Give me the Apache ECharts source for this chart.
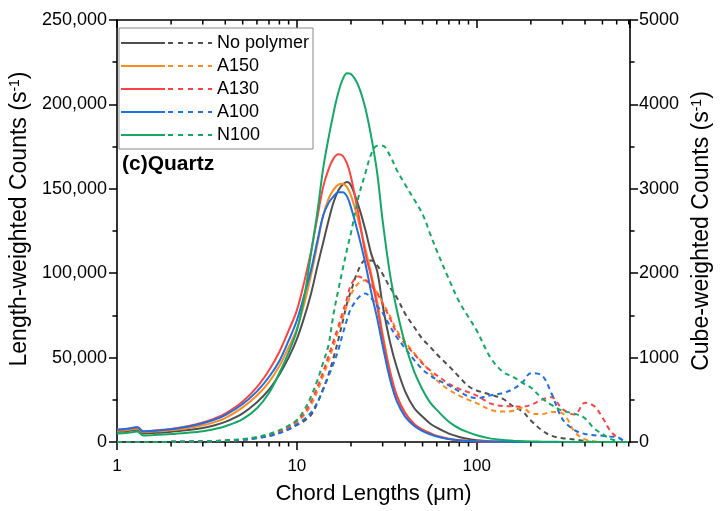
<!DOCTYPE html>
<html><head><meta charset="utf-8">
<script src="https://cdn.jsdelivr.net/npm/echarts@6/dist/echarts.min.js"></script>
<style>html,body{margin:0;padding:0;background:#fff}#c{width:721px;height:511px}</style>
</head><body><div id="c"></div>
<script>
const chord = [1,1.15,1.3,1.4,1.6,1.8,2,2.5,3,3.5,4,5,6,7,8,9,10,11,12,13,14,15,16,17,18,19,20,22,24,26,28,30,33,36,40,45,50,55,60,70,80,90,100,120,140,160,180,200,230,260,300,350,400,450,500,550,600,650,700];

// Length-weighted counts (left axis, s^-1)
const noPolymerL = [6000,6500,7300,5100,5400,5700,6100,7100,8300,9900,11900,17000,23500,31000,40000,50000,61000,74000,88000,104000,118000,131000,142000,149000,152500,154000,152000,140000,126000,111000,101000,81000,59000,44000,30000,20000,15000,11000,8500,5000,3000,1800,1100,500,300,200,120,80,50,30,20,10,5,0,0,0,0,0,0];
const a150L = [6600,7100,7900,5800,6200,6500,6900,8300,9900,11800,14100,20500,27500,35500,45000,56000,67000,82000,99000,117000,134000,144000,149500,152500,153000,151000,146000,131000,115000,99000,83000,64000,42000,27500,17500,10500,7300,5200,3700,2000,1100,700,450,250,150,100,60,40,20,10,5,0,0,0,0,0,0,0,0];
const a130L = [7300,7900,8800,6300,6800,7200,7700,9500,11600,14000,16800,24000,32500,42500,53500,66000,78000,95000,113000,133000,151000,161500,168000,170500,169500,165000,157000,135000,112000,97000,80000,62000,41000,27000,17000,10500,7200,5200,3500,1800,1000,600,400,200,120,80,50,30,15,5,0,0,0,0,0,0,0,0,0];
const a100L = [7200,7800,8800,6200,6700,7100,7600,9200,11100,13300,15900,22500,30000,38500,48000,60000,72000,87000,102000,119000,134000,141500,145500,148000,148000,145500,139000,123000,106000,88000,73000,57000,37000,24000,15000,9500,6500,4600,3300,1700,950,600,380,200,120,70,40,25,10,5,0,0,0,0,0,0,0,0,0];
const n100L = [5000,5500,6200,3800,4100,4400,4700,5500,6400,7700,9300,13500,20000,29000,41000,53000,66000,86000,112000,136000,162000,180000,195000,207000,215000,218500,218000,211000,198000,180000,159000,131000,99000,78000,58000,41500,31000,23500,19000,12000,8000,5700,4000,2000,1200,800,500,300,200,120,70,40,20,10,5,0,0,0,0];

// Cube-weighted counts (right axis, s^-1)
const noPolymerR = [0,0,0,0,1,1,2,4,7,11,16,28,48,75,110,150,200,250,320,460,630,800,1000,1210,1430,1640,1790,2040,2150,2150,2090,1990,1830,1710,1520,1360,1220,1130,1040,900,770,660,610,560,510,420,360,255,140,75,45,30,10,0,0,null,null,null,null];
const a150R = [0,0,0,0,1,1,2,4,7,11,17,28,50,78,115,165,235,320,440,600,780,960,1140,1320,1480,1620,1750,1880,1915,1860,1770,1650,1490,1320,1190,1050,940,830,730,620,550,500,460,380,360,370,410,340,330,355,340,120,30,10,0,null,null,null,null];
const a130R = [0,0,0,0,1,1,2,4,7,11,17,30,52,82,120,175,250,340,480,650,830,1020,1200,1370,1540,1700,1860,1960,1920,1850,1760,1640,1460,1290,1160,1040,930,850,790,690,630,590,550,455,425,423,418,440,500,530,390,325,465,425,290,140,60,20,null];
const a100R = [0,0,0,0,1,1,2,4,6,10,15,25,45,70,105,150,210,270,350,470,620,780,930,1090,1280,1450,1580,1710,1760,1700,1610,1530,1370,1240,1110,970,860,790,740,670,600,540,520,555,580,630,710,815,790,580,270,140,95,80,75,65,60,20,null];
const n100R = [0,0,0,0,1,1,2,5,8,12,18,35,60,95,140,195,260,380,540,730,940,1150,1520,1800,2050,2280,2480,2900,3180,3420,3510,3510,3390,3220,3050,2870,2700,2470,2265,1930,1660,1480,1320,990,830,770,700,645,520,440,370,335,280,160,95,40,12,null,null];

const sampleNames = ['No polymer','A150','A130','A100','N100'];
const lengthSets = [noPolymerL, a150L, a130L, a100L, n100L];
const cubeSets = [noPolymerR, a150R, a130R, a100R, n100R];
const colors = ['#4f4f4f','#ff8a1f','#ff4242','#1e6fe0','#14a865'];
const minorXTicks = [2,3,4,5,6,7,8,9,20,30,40,50,60,70,80,90,200,300,400,500,600,700];

const FONT = '"Liberation Sans", Arial, sans-serif';
const X_MAX = 712;

function pairs(arr){
  const out=[];
  chord.forEach((x,i)=>{ if(arr[i]!=null) out.push([x,arr[i]]); });
  return out;
}

const series = [];
sampleNames.forEach((n,i)=>{
  series.push({name:n,type:'line',xAxisIndex:0,yAxisIndex:0,data:pairs(lengthSets[i]),
    showSymbol:false,symbol:'none',smooth:0.35,
    lineStyle:{color:colors[i],width:2},itemStyle:{color:colors[i]},z:2+i});
});
sampleNames.forEach((n,i)=>{
  series.push({name:n,type:'line',xAxisIndex:0,yAxisIndex:1,data:pairs(cubeSets[i]),
    showSymbol:false,symbol:'none',smooth:0.35,
    lineStyle:{color:colors[i],width:2,type:[5,4]},itemStyle:{color:colors[i]},z:2+i});
});
series.push({
  type:'custom',xAxisIndex:0,yAxisIndex:0,silent:true,clip:false,z:20,
  data:minorXTicks.map(v=>[v,0]),
  renderItem(params,api){
    const x=api.value(0);
    const pb=api.coord([x,0]);
    const pt=api.coord([x,250000]);
    return {type:'group',children:[
      {type:'line',shape:{x1:pb[0],y1:pb[1],x2:pb[0],y2:pb[1]+4.5},style:{stroke:'#000',lineWidth:1.5}},
      {type:'line',shape:{x1:pt[0],y1:pt[1],x2:pt[0],y2:pt[1]+4.5},style:{stroke:'#000',lineWidth:1.5}}
    ]};
  }
});

const iconPath = 'path://M0,0H44V2H0Z M47,0H52V2H47Z M57,0H62V2H57Z M67,0H72V2H67Z M77,0H82V2H77Z M87,0H91V2H87Z';

const axisLine = {show:true,onZero:false,lineStyle:{color:'#000',width:1.6}};
const option = {
  animation:false,
  backgroundColor:'#fff',
  textStyle:{fontFamily:FONT},
  title:{text:'(c)Quartz',left:117,top:149,textStyle:{fontFamily:FONT,fontSize:21,fontWeight:'bold',color:'#000'}},
  legend:{
    data:sampleNames.map(n=>({name:n,icon:iconPath})),
    orient:'vertical',left:119,top:28,
    itemWidth:91,itemHeight:2,itemGap:5,
    padding:[6,4,5,2],
    borderColor:'#8a8a8a',borderWidth:1,
    itemStyle:{borderWidth:0},
    textStyle:{fontFamily:FONT,fontSize:18,color:'#000'},
    selectedMode:false
  },
  grid:{left:116,right:79,top:20,bottom:69},
  xAxis:[
    {type:'log',logBase:10,min:1,max:X_MAX,position:'bottom',
     name:'Chord Lengths (μm)',nameLocation:'middle',nameGap:41,
     nameTextStyle:{fontFamily:FONT,fontSize:22,color:'#000'},
     axisLine:axisLine,axisTick:{show:true,length:8,lineStyle:{color:'#000',width:1.5}},
     axisLabel:{show:true,margin:16,fontFamily:FONT,fontSize:17,color:'#000',showMaxLabel:false,
       formatter:v=>String(Math.round(v))},
     splitLine:{show:false},minorTick:{show:false}},
    {type:'log',logBase:10,min:1,max:X_MAX,position:'top',
     axisLine:axisLine,axisTick:{show:true,inside:true,length:8,lineStyle:{color:'#000',width:1.5}},
     axisLabel:{show:false},splitLine:{show:false}}
  ],
  yAxis:[
    {type:'value',min:0,max:250000,interval:50000,position:'left',
     name:'Length-weighted Counts (s{sup|-1})',nameLocation:'middle',nameGap:73,nameRotate:90,
     nameTextStyle:{fontFamily:FONT,fontSize:23,color:'#000',padding:[0,0,0,24],
       rich:{sup:{fontFamily:FONT,fontSize:14,verticalAlign:'top',color:'#000'}}},
     axisLine:axisLine,axisTick:{show:true,length:8,lineStyle:{color:'#000',width:1.5}},
     minorTick:{show:true,splitNumber:2,length:4.5,lineStyle:{color:'#000',width:1.5}},
     axisLabel:{margin:10,fontFamily:FONT,fontSize:18,color:'#000',
       formatter:v=>v.toString().replace(/\B(?=(\d{3})+(?!\d))/g,',')},
     splitLine:{show:false}},
    {type:'value',min:0,max:5000,interval:1000,position:'right',
     name:'Cube-weighted Counts (s{sup|-1})',nameLocation:'middle',nameGap:59,nameRotate:90,
     nameTextStyle:{fontFamily:FONT,fontSize:23,color:'#000',
       rich:{sup:{fontFamily:FONT,fontSize:14,verticalAlign:'top',color:'#000'}}},
     axisLine:axisLine,axisTick:{show:true,length:8,lineStyle:{color:'#000',width:1.5}},
     minorTick:{show:true,splitNumber:2,length:4.5,lineStyle:{color:'#000',width:1.5}},
     axisLabel:{margin:9,fontFamily:FONT,fontSize:18,color:'#000',formatter:v=>String(v)},
     splitLine:{show:false}}
  ],
  series:series
};
const chart = echarts.init(document.getElementById('c'),null,{renderer:'canvas'});
chart.setOption(option);
</script></body></html>
